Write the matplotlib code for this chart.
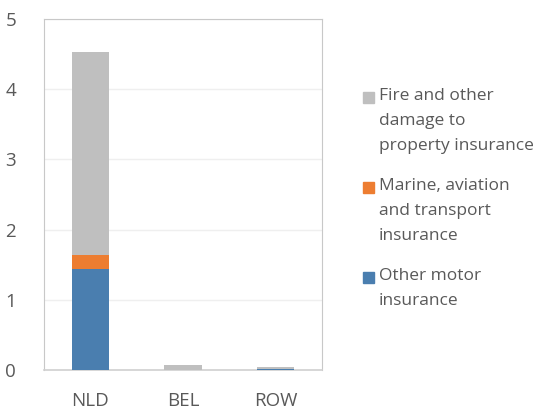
import matplotlib
matplotlib.use("Agg")
import matplotlib.pyplot as plt
from matplotlib.patches import Rectangle

plt.rcParams['font.family'] = ['Open Sans', 'DejaVu Sans']

regions = ['NLD', 'BEL', 'ROW']
other_motor = [1.44, 0.0, 0.01]
marine = [0.20, 0.0, 0.0]
fire = [2.885, 0.067, 0.028]

series = [
    ('Other motor\ninsurance', other_motor, '#4A7EAF'),
    ('Marine, aviation\nand transport\ninsurance', marine, '#ED7D31'),
    ('Fire and other\ndamage to\nproperty insurance', fire, '#BFBFBF'),
]

text_color = '#595959'

fig = plt.figure(figsize=(5.33, 4.12), dpi=100)
ax = fig.add_axes([0.0826, 0.102, 0.5216, 0.852])

bottom = [0.0] * len(regions)
for label, vals, color in series:
    ax.bar(range(len(regions)), vals, width=0.4, bottom=bottom, color=color, zorder=3)
    bottom = [b + v for b, v in zip(bottom, vals)]

ax.set_xlim(-0.5, 2.5)
ax.set_ylim(0, 5)
ax.set_yticks([0, 1, 2, 3, 4, 5])
ax.set_xticks(range(len(regions)))
ax.set_xticklabels(regions)
ax.tick_params(axis='both', length=0, labelsize=13.5, colors=text_color)
ax.tick_params(axis='y', pad=20)
ax.tick_params(axis='x', pad=16)
ax.grid(axis='y', color='#EFEFEF', linewidth=1, zorder=0)
for side in ['left', 'right', 'top']:
    ax.spines[side].set_color('#C8C8C8')
ax.spines['bottom'].set_color('#D0D0D0')
ax.spines['bottom'].set_linewidth(1.2)

# legend, top entry first
y = 1 - 97 / 412
for label, vals, color in reversed(series):
    fig.patches.append(Rectangle((363 / 533, y - 5.5 / 412), 11 / 533, 11 / 412,
                                 transform=fig.transFigure, color=color))
    fig.text(379 / 533, y + 9 / 412, label, fontsize=12.5, color=text_color, va='top',
             linespacing=1.76, transform=fig.transFigure)
    nlines = label.count('\n') + 1
    y -= (nlines * 25 + 15) / 412

fig.savefig('out.png', dpi=100)
